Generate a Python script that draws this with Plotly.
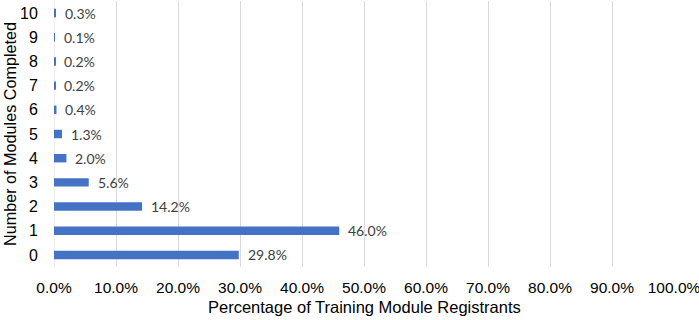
import plotly.graph_objects as go

categories = ["0", "1", "2", "3", "4", "5", "6", "7", "8", "9", "10"]
values = [29.8, 46.0, 14.2, 5.6, 2.0, 1.3, 0.4, 0.2, 0.2, 0.1, 0.3]
labels = ["29.8%", "46.0%", "14.2%", "5.6%", "2.0%", "1.3%", "0.4%", "0.2%", "0.2%", "0.1%", "0.3%"]
x_ticks = [0, 10, 20, 30, 40, 50, 60, 70, 80, 90, 100]
x_tick_text = ["0.0%", "10.0%", "20.0%", "30.0%", "40.0%", "50.0%", "60.0%", "70.0%", "80.0%", "90.0%", "100.0%"]

fig = go.Figure()
fig.add_trace(go.Bar(
    y=categories, x=values, orientation="h",
    marker=dict(color="#4472C4", line=dict(width=0)),
    width=0.35,
))
for c, v, t in zip(categories, values, labels):
    fig.add_annotation(x=v, y=c, text=t, showarrow=False, xanchor="left",
                       xshift=7, font=dict(family="Lato, Open Sans, sans-serif", size=14, color="#404040"))

fig.add_annotation(x=0.5, y=0, xref="paper", yref="paper", yanchor="middle", yshift=-40,
                   text="Percentage of Training Module Registrants", showarrow=False,
                   font=dict(family="Liberation Sans, Arial, sans-serif", size=16.5, color="black"))
fig.add_annotation(x=0, y=0.5, xref="paper", yref="paper", xanchor="center", yanchor="middle",
                   xshift=-44, textangle=-90,
                   text="Number of Modules Completed", showarrow=False,
                   font=dict(family="Liberation Sans, Arial, sans-serif", size=16.2, color="black"))

fig.update_layout(
    width=699, height=320,
    margin=dict(l=54, r=25, t=1, b=53),
    paper_bgcolor="white", plot_bgcolor="white",
    showlegend=False,
    font=dict(family="Liberation Sans, Arial, sans-serif", color="black"),
    xaxis=dict(
        range=[0, 100], tickvals=x_ticks, ticktext=x_tick_text,
        showgrid=True, gridcolor="#d9d9d9", gridwidth=1,
        zeroline=False, showline=False, automargin=False,
        ticks="outside", ticklen=6, tickcolor="rgba(0,0,0,0)",
        tickfont=dict(size=15.5, color="black"),
        ticklabeloverflow="allow",
        fixedrange=True,
    ),
    yaxis=dict(
        type="category", categoryorder="array", categoryarray=categories,
        range=[-0.5, 10.5], automargin=False,
        showgrid=False, zeroline=False, showline=False,
        ticks="outside", ticklen=12, tickcolor="rgba(0,0,0,0)",
        tickfont=dict(size=16, color="black"),
        fixedrange=True,
    ),
)
fig.add_shape(type="line", xref="x", yref="paper", x0=0, x1=0, y0=0, y1=1,
              line=dict(color="#d9d9d9", width=1), layer="below")

fig.write_html("out.html", config={"displayModeBar": False},
               post_script="document.body.style.margin='0';")
